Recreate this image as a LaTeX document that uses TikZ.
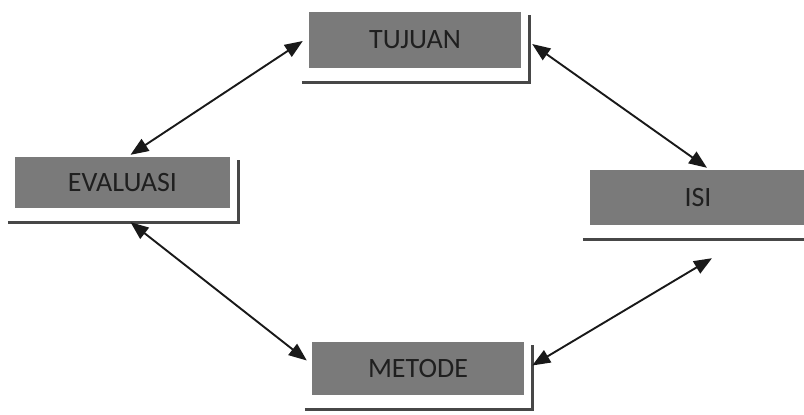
\documentclass[tikz,border=0pt]{standalone}
\usepackage{fontspec}
\setmainfont{Carlito}
\usetikzlibrary{arrows.meta,calc}

\tikzset{
  x=1pt, y=-1pt,
  stagebox/.style={rectangle, fill=black!52, draw=none, inner sep=0pt,
    font=\fontsize{28}{32}\selectfont, text=black!88},
  boxshadow/.style={draw=black!72, line width=3.4pt},
  tip/.tip={Triangle[length=18pt,width=14pt]},
  link/.style={tip-tip, line width=1.9pt, black!90},
}

% shadow frame under and right of a box: L-shaped line
\newcommand{\stageshadow}[1]{%
  \draw[boxshadow] ($(#1.south west)+(-7,14)$) -- ($(#1.south east)+(8,14)$)
                   -- ($(#1.north east)+(8,3)$);}

\begin{document}
\begin{tikzpicture}
\useasboundingbox (0,0) rectangle (804,415);
\fill[white] (0,0) rectangle (804,415);

% stages of the cycle
\node[stagebox, minimum width=212pt, minimum height=56pt] (tujuan)   at (415,40)    {TUJUAN};
\node[stagebox, minimum width=215pt, minimum height=51pt] (evaluasi) at (122.5,182.5) {EVALUASI};
\node[stagebox, minimum width=216pt, minimum height=55pt] (isi)      at (698,197.5) {ISI};
\node[stagebox, minimum width=212pt, minimum height=53pt] (metode)   at (418,368.5) {METODE};

\stageshadow{tujuan}
\stageshadow{evaluasi}
\stageshadow{isi}
\stageshadow{metode}

% two-way links around the cycle
\draw[link] ($(tujuan.west)+(-6,1)$)   -- ($(evaluasi.north)+(8,-2)$);
\draw[link] ($(tujuan.east)+(11,4)$)   -- ($(isi.north)+(9,-2)$);
\draw[link] ($(evaluasi.south)+(8,14)$) -- ($(metode.west)+(-5,-8)$);
\draw[link] ($(metode.east)+(8,-3)$)   -- ($(isi.south)+(14,33)$);
\end{tikzpicture}
\end{document}
